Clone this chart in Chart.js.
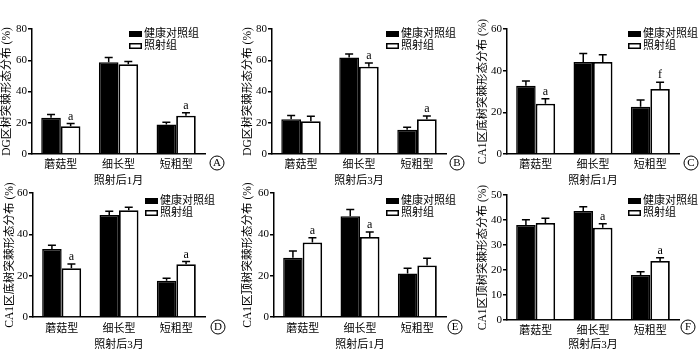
<!DOCTYPE html>
<html><head><meta charset="utf-8">
<script src="https://cdn.jsdelivr.net/npm/chart.js@4"></script>
<style>
html,body{margin:0;padding:0;background:#fff;}
body{width:700px;height:353px;position:relative;overflow:hidden;}
canvas{position:absolute;}
</style></head><body>
<script>
// ---------- data ----------
const categories = ['蘑菇型', '细长型', '短粗型'];
const seriesNames = ['健康对照组', '照射组'];
const panelLetters = ['A', 'B', 'C', 'D', 'E', 'F'];
const yTitles = ['DG区树突棘形态分布 (%)', 'DG区树突棘形态分布 (%)', 'CA1区底树突棘形态分布 (%)',
                 'CA1区底树突棘形态分布 (%)', 'CA1区顶树突棘形态分布 (%)', 'CA1区顶树突棘形态分布 (%)'];
const xTitles = ['照射后1月', '照射后3月', '照射后1月', '照射后3月', '照射后1月', '照射后3月'];
const yMaxes = [80, 80, 60, 60, 60, 50];
const ySteps = [20, 20, 20, 20, 20, 10];

const ctrlA = [23.2, 58.8, 18.9], ctrlErrA = [2.1, 3.0, 1.5];
const irrA  = [17.8, 57.5, 24.5], irrErrA  = [1.7, 1.7, 1.9];
const sigA  = ['a', '', 'a'];

const ctrlB = [22.2, 61.8, 15.6], ctrlErrB = [2.4, 2.2, 1.5];
const irrB  = [21.0, 55.8, 22.2], irrErrB  = [3.2, 2.4, 2.2];
const sigB  = ['', 'a', 'a'];

const ctrlC = [32.8, 44.2, 22.7], ctrlErrC = [2.2, 4.0, 3.2];
const irrC  = [24.1, 44.2, 31.2], irrErrC  = [2.4, 3.5, 3.2];
const sigC  = ['a', '', 'f'];

const ctrlD = [32.9, 49.4, 17.5], ctrlErrD = [1.8, 1.8, 1.3];
const irrD  = [23.6, 51.7, 25.5], irrErrD  = [2.1, 1.4, 1.3];
const sigD  = ['a', '', 'a'];

const ctrlE = [28.7, 48.8, 21.0], ctrlErrE = [3.2, 3.2, 2.6];
const irrE  = [36.1, 38.7, 24.9], irrErrE  = [2.3, 2.4, 3.5];
const sigE  = ['a', 'a', ''];

const ctrlF = [38.0, 43.6, 18.0], ctrlErrF = [2.1, 1.7, 1.3];
const irrF  = [38.8, 36.9, 23.6], irrErrF  = [1.9, 1.6, 1.3];
const sigF  = ['', 'a', 'a'];

const panelData = [
  [ctrlA, ctrlErrA, irrA, irrErrA, sigA],
  [ctrlB, ctrlErrB, irrB, irrErrB, sigB],
  [ctrlC, ctrlErrC, irrC, irrErrC, sigC],
  [ctrlD, ctrlErrD, irrD, irrErrD, sigD],
  [ctrlE, ctrlErrE, irrE, irrErrE, sigE],
  [ctrlF, ctrlErrF, irrF, irrErrF, sigF]
];

// ---------- layout (page px) ----------
const FONT = "'Liberation Serif', 'Noto Sans CJK SC', serif";
const frames = [
  {cx:0,   cy:0,   cw:234, ch:192, L:32,  T:29,  R:205, B:154, yt:7,  lx:129, ly:34, ox:217, oy:163, tp:5,   xp:4.4},
  {cx:233, cy:0,   cw:234, ch:192, L:272, T:29,  R:446, B:154, yt:15, lx:386, ly:34, ox:457, oy:163, tp:5,   xp:4.4},
  {cx:466, cy:0,   cw:234, ch:192, L:507, T:29,  R:679, B:154, yt:17, lx:628, ly:34, ox:691, oy:163, tp:5,   xp:4.4},
  {cx:0,   cy:176, cw:234, ch:177, L:33,  T:193, R:205, B:317, yt:10, lx:145, ly:201, ox:218, oy:327, tp:5.5, xp:1.4},
  {cx:233, cy:176, cw:234, ch:177, L:274, T:193, R:446, B:317, yt:15, lx:386, ly:201, ox:455, oy:327, tp:5.5, xp:1.4},
  {cx:466, cy:176, cw:234, ch:177, L:507, T:195, R:679, B:320, yt:17, lx:628, ly:201, ox:688, oy:327, tp:4.5, xp:1.4}
];

const decorPlugin = {
  id: 'decor',
  afterDatasetsDraw(chart, args, opts) {
    const ctx = chart.ctx;
    const ys = chart.scales.y;
    ctx.save();
    ctx.strokeStyle = '#000';
    ctx.fillStyle = '#000';
    ctx.lineWidth = 1.5;
    chart.data.datasets.forEach((ds, di) => {
      const meta = chart.getDatasetMeta(di);
      meta.data.forEach((el, j) => {
        const v = ds.data[j], e = ds.errors[j];
        const yv = ys.getPixelForValue(v);
        const ye = ys.getPixelForValue(v + e);
        ctx.beginPath();
        ctx.moveTo(el.x, yv);
        ctx.lineTo(el.x, ye);
        ctx.moveTo(el.x - 4, ye);
        ctx.lineTo(el.x + 4, ye);
        ctx.stroke();
        if (ds.sig && ds.sig[j]) {
          ctx.font = '12px ' + FONT;
          ctx.textAlign = 'center';
          ctx.textBaseline = 'bottom';
          ctx.fillText(ds.sig[j], el.x, ye - 1);
        }
      });
    });
    ctx.restore();
  },
  afterDraw(chart, args, opts) {
    const f = opts.frame;
    const ctx = chart.ctx;
    ctx.save();
    // legend
    const lx = f.lx - f.cx;
    const ly0 = f.ly - f.cy;
    ctx.font = '11px ' + FONT;
    ctx.textBaseline = 'middle';
    ctx.textAlign = 'left';
    chart.data.datasets.forEach((ds, i) => {
      const ly = ly0 + i * 12;
      ctx.fillStyle = ds.backgroundColor;
      ctx.fillRect(lx, ly - 3, 13, 6);
      ctx.strokeStyle = '#000';
      ctx.lineWidth = 1.5;
      ctx.strokeRect(lx + 0.75, ly - 2.25, 11.5, 4.5);
      ctx.fillStyle = '#000';
      ctx.fillText(ds.label, lx + 15, ly + 0.5);
    });
    // circled letter
    const ox = f.ox - f.cx, oy = f.oy - f.cy;
    ctx.beginPath();
    ctx.lineWidth = 1;
    ctx.arc(ox, oy, 7, 0, Math.PI * 2);
    ctx.stroke();
    ctx.font = '11px ' + FONT;
    ctx.textAlign = 'center';
    ctx.textBaseline = 'middle';
    ctx.fillText(opts.letter, ox, oy + 0.5);
    ctx.restore();
  }
};

panelData.forEach((pd, i) => {
  const f = frames[i];
  const cv = document.createElement('canvas');
  cv.width = f.cw; cv.height = f.ch;
  cv.style.left = f.cx + 'px'; cv.style.top = f.cy + 'px';
  cv.style.width = f.cw + 'px'; cv.style.height = f.ch + 'px';
  document.body.appendChild(cv);
  const yW = f.L - f.cx;
  const xH = (f.cy + f.ch) - f.B;
  new Chart(cv.getContext('2d'), {
    type: 'bar',
    data: {
      labels: categories,
      datasets: [
        {label: seriesNames[0], data: pd[0], errors: pd[1], sig: null,
         backgroundColor: '#000', borderColor: '#000', borderWidth: 1.5,
         categoryPercentage: 0.68, barPercentage: 1.0},
        {label: seriesNames[1], data: pd[2], errors: pd[3], sig: pd[4],
         backgroundColor: '#fff', borderColor: '#000', borderWidth: 1.8,
         categoryPercentage: 0.68, barPercentage: 1.0}
      ]
    },
    options: {
      responsive: false,
      animation: false,
      devicePixelRatio: 1,
      layout: {padding: {left: 0, top: f.T - f.cy, right: (f.cx + f.cw) - f.R, bottom: 0}},
      plugins: {
        legend: {display: false},
        tooltip: {enabled: false},
        decor: {frame: f, letter: panelLetters[i]}
      },
      scales: {
        x: {
          grid: {display: true, drawOnChartArea: false, drawTicks: false},
          border: {display: true, color: '#000', width: 1.5},
          ticks: {color: '#000', font: {family: FONT, size: 11}, padding: f.tp, maxRotation: 0},
          title: {display: true, text: xTitles[i], color: '#000', font: {family: FONT, size: 11},
                  padding: {top: 0, bottom: f.xp}},
          afterFit(s) { s.height = xH; }
        },
        y: {
          min: 0, max: yMaxes[i],
          grid: {display: true, drawOnChartArea: false, drawTicks: true, tickLength: 4, color: '#000', lineWidth: 1.5},
          border: {display: true, color: '#000', width: 1.5},
          ticks: {stepSize: ySteps[i], color: '#000', font: {family: FONT, size: 11}, padding: 1},
          title: {display: true, text: yTitles[i], color: '#000', font: {family: FONT, size: 11.5},
                  padding: {top: f.yt - 6.9, bottom: 0}},
          afterFit(s) { s.width = yW; }
        }
      }
    },
    plugins: [decorPlugin]
  });
});
</script>
</body></html>
